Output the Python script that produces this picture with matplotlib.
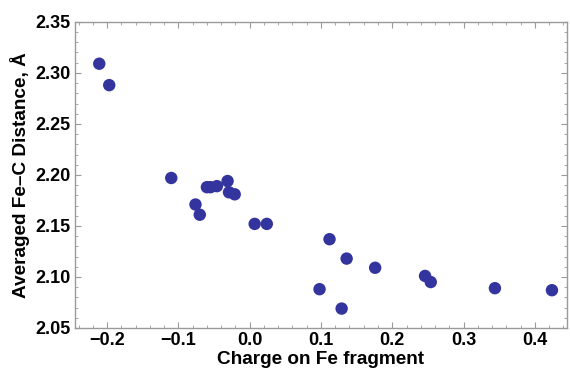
import matplotlib.pyplot as plt
from matplotlib.ticker import MultipleLocator

charge = [-0.211, -0.197, -0.110, -0.076, -0.070, -0.060, -0.055, -0.046,
          -0.031, -0.029, -0.021, 0.007, 0.024, 0.098, 0.112, 0.129,
          0.136, 0.176, 0.246, 0.254, 0.344, 0.424]
distance = [2.309, 2.288, 2.197, 2.171, 2.161, 2.188, 2.188, 2.189,
            2.194, 2.183, 2.181, 2.152, 2.152, 2.088, 2.137, 2.069,
            2.118, 2.109, 2.101, 2.095, 2.089, 2.087]

plt.rcParams['font.family'] = ['Liberation Sans', 'DejaVu Sans']
plt.rcParams['font.weight'] = 'bold'

fig = plt.figure(figsize=(5.7, 3.71), dpi=100)
ax = fig.add_axes([0.1316, 0.116, 0.863, 0.825])

ax.scatter(charge, distance, s=80, color='#34349e', edgecolors='none', zorder=3)

ax.set_xlim(-0.245, 0.445)
ax.set_ylim(2.05, 2.35)
ax.xaxis.set_major_locator(MultipleLocator(0.1))
ax.xaxis.set_minor_locator(MultipleLocator(0.02))
ax.yaxis.set_major_locator(MultipleLocator(0.05))
ax.yaxis.set_minor_locator(MultipleLocator(0.01))
ax.xaxis.set_major_formatter(lambda v, p: f"{v:.1f}".replace('-', '\u2212'))
ax.yaxis.set_major_formatter(lambda v, p: f"{v:.2f}")

for s in ax.spines.values():
    s.set_color('#9a9a9a')
    s.set_linewidth(1.0)
ax.tick_params(which='both', direction='in', top=True, right=True,
               color='#9a9a9a', labelsize=13, pad=3)
ax.tick_params(which='major', length=4)
ax.tick_params(which='minor', length=2)
for lab in ax.get_xticklabels() + ax.get_yticklabels():
    lab.set_fontweight('bold')

ax.set_xlabel('Charge on Fe fragment', fontsize=13.7, fontweight='bold', labelpad=1)
ax.set_ylabel('Averaged Fe\u2013C Distance, \u00c5', fontsize=13.7, fontweight='bold', labelpad=4)

fig.savefig('out.png', dpi=100)
